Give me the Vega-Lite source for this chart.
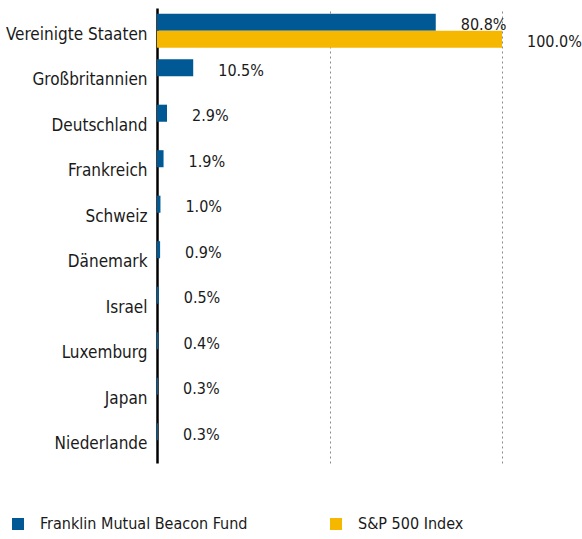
{
  "$schema": "https://vega.github.io/schema/vega-lite/v6.json",
  "width": 345,
  "height": 455,
  "autosize": {"type": "none"},
  "padding": {"left": 157, "top": 8, "right": 80, "bottom": 76},
  "background": "white",
  "config": {
    "font": "Liberation Sans Narrow, DejaVu Sans Condensed, sans-serif",
    "view": {"stroke": null}
  },
  "data": {
    "values": [
      {"country": "Vereinigte Staaten", "series": "Franklin Mutual Beacon Fund", "value": 80.8},
      {"country": "Vereinigte Staaten", "series": "S&P 500 Index", "value": 100.0},
      {"country": "Großbritannien", "series": "Franklin Mutual Beacon Fund", "value": 10.5},
      {"country": "Deutschland", "series": "Franklin Mutual Beacon Fund", "value": 2.9},
      {"country": "Frankreich", "series": "Franklin Mutual Beacon Fund", "value": 1.9},
      {"country": "Schweiz", "series": "Franklin Mutual Beacon Fund", "value": 1.0},
      {"country": "Dänemark", "series": "Franklin Mutual Beacon Fund", "value": 0.9},
      {"country": "Israel", "series": "Franklin Mutual Beacon Fund", "value": 0.5},
      {"country": "Luxemburg", "series": "Franklin Mutual Beacon Fund", "value": 0.4},
      {"country": "Japan", "series": "Franklin Mutual Beacon Fund", "value": 0.3},
      {"country": "Niederlande", "series": "Franklin Mutual Beacon Fund", "value": 0.3}
    ]
  },
  "transform": [
    {"calculate": "format(datum.value, '.1f') + '%'", "as": "label"}
  ],
  "encoding": {
    "y": {
      "field": "country",
      "type": "nominal",
      "sort": null,
      "scale": {"paddingInner": 0.25, "paddingOuter": 0.125},
      "axis": {
        "title": null,
        "ticks": false,
        "labelFontSize": 17,
        "labelColor": "#1a1a1a",
        "labelPadding": 10,
        "labelOffset": 4,
        "domainColor": "#000000",
        "domainWidth": 2.5
      }
    },
    "yOffset": {
      "field": "series",
      "type": "nominal",
      "scale": {"domain": ["Franklin Mutual Beacon Fund", "S&P 500 Index"], "paddingInner": 0, "paddingOuter": 0}
    }
  },
  "layer": [
    {
      "mark": {"type": "bar"},
      "encoding": {
        "x": {
          "field": "value",
          "type": "quantitative",
          "scale": {"domain": [0, 100], "nice": false},
          "axis": {
            "title": null,
            "values": [50, 100],
            "labels": false,
            "ticks": false,
            "domain": false,
            "grid": true,
            "gridColor": "#8a8a8a",
            "gridDash": [2, 3],
            "gridWidth": 1
          }
        },
        "color": {
          "field": "series",
          "type": "nominal",
          "scale": {"domain": ["Franklin Mutual Beacon Fund", "S&P 500 Index"], "range": ["#005994", "#F6B700"]},
          "legend": {
            "title": null,
            "orient": "none",
            "legendX": -147,
            "legendY": 508,
            "direction": "horizontal",
            "symbolType": "square",
            "symbolSize": 144,
            "symbolStrokeWidth": 0,
            "symbolOpacity": 1,
            "labelFontSize": 16,
            "labelColor": "#1a1a1a",
            "labelOffset": 14,
            "labelLimit": 300,
            "columnPadding": 80
          }
        }
      }
    },
    {
      "mark": {"type": "text", "align": "left", "baseline": "middle", "dx": 25, "dy": 3, "fontSize": 16, "color": "#1a1a1a"},
      "encoding": {
        "x": {"field": "value", "type": "quantitative"},
        "text": {"field": "label", "type": "nominal"}
      }
    }
  ]
}
